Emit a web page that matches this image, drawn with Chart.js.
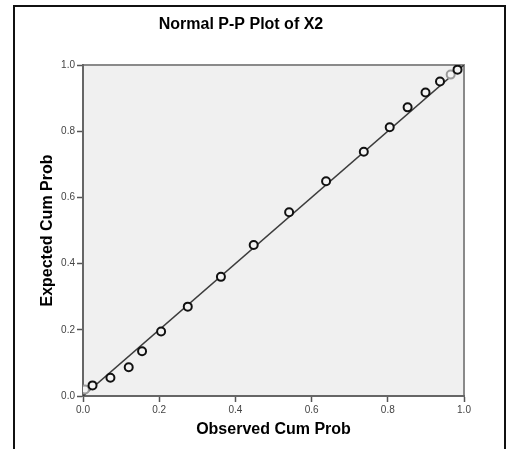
<!DOCTYPE html>
<html>
<head>
<meta charset="utf-8">
<script src="https://cdn.jsdelivr.net/npm/chart.js@4/dist/chart.umd.min.js"></script>
<style>
  html, body { margin: 0; padding: 0; background: #fff; }
  #wrap { position: relative; width: 513px; height: 449px; overflow: hidden; }
  #frame {
    position: absolute; left: 13px; top: 5px; width: 489px; height: 470px;
    border: 2px solid #111; border-bottom: none; pointer-events: none;
  }
</style>
</head>
<body>
<div id="wrap">
  <canvas id="ppChart" width="513" height="449"></canvas>
  <div id="frame"></div>
</div>
<script>
const chartTitle = 'Normal P-P Plot of X2';
const xTitle = 'Observed Cum Prob';
const yTitle = 'Expected Cum Prob';

const observedCum = [0.005, 0.025, 0.072, 0.12, 0.155, 0.205, 0.275, 0.362, 0.448, 0.541, 0.638, 0.737, 0.805, 0.852, 0.899, 0.937, 0.965, 0.983];
const expectedCum = [0.02, 0.032, 0.055, 0.087, 0.135, 0.195, 0.27, 0.36, 0.456, 0.555, 0.649, 0.738, 0.812, 0.872, 0.917, 0.95, 0.971, 0.986];
const faintPoints = [0, 16];
const tickValues = [0, 0.2, 0.4, 0.6, 0.8, 1.0];
const refLine = [0, 1];

const fontFamily = '"Liberation Sans", Arial, sans-serif';

const points = observedCum.map((x, i) => ({ x: x, y: expectedCum[i] }));
const pointColors = observedCum.map((x, i) => faintPoints.includes(i) ? '#9a9a9a' : '#111');

const plotBackground = {
  id: 'plotBackground',
  beforeDraw(chart) {
    const { ctx, chartArea: a } = chart;
    ctx.save();
    ctx.fillStyle = '#f0f0f0';
    ctx.fillRect(a.left, a.top, a.right - a.left, a.bottom - a.top);
    ctx.strokeStyle = '#8a8a8a';
    ctx.lineWidth = 2;
    ctx.beginPath();
    ctx.moveTo(a.left, a.top);
    ctx.lineTo(a.right, a.top);
    ctx.lineTo(a.right, a.bottom);
    ctx.stroke();
    ctx.restore();
  },
  afterDraw(chart) {
    const ctx = chart.ctx;
    ctx.save();
    ctx.fillStyle = '#000';
    ctx.font = 'bold 16px ' + fontFamily;
    ctx.textAlign = 'center';
    ctx.textBaseline = 'middle';
    ctx.fillText(chartTitle, 241, 25);
    ctx.restore();
  }
};

function fixTicks(scale) {
  scale.ticks = tickValues.map(v => ({ value: v }));
}

const tickFont = { family: fontFamily, size: 10 };
const titleFont = { family: fontFamily, size: 16, weight: 'bold' };

new Chart(document.getElementById('ppChart'), {
  data: {
    datasets: [
      {
        type: 'scatter',
        data: points,
        pointRadius: 4,
        pointBorderWidth: 2,
        pointBorderColor: pointColors,
        pointBackgroundColor: '#f4f4f4',
        order: 1
      },
      {
        type: 'line',
        data: refLine.map(v => ({ x: v, y: v })),
        borderColor: '#3c3c3c',
        borderWidth: 1.5,
        pointRadius: 0,
        order: 2
      }
    ]
  },
  options: {
    responsive: false,
    animation: false,
    devicePixelRatio: 1,
    layout: { padding: { top: 65, right: 49, left: 0, bottom: 0 } },
    plugins: {
      legend: { display: false },
      tooltip: { enabled: false }
    },
    scales: {
      x: {
        type: 'linear',
        min: 0,
        max: 1,
        afterBuildTicks: fixTicks,
        afterFit: s => { s.height = 53; },
        ticks: {
          font: tickFont,
          color: '#444',
          padding: 2,
          maxRotation: 0,
          callback: v => v.toFixed(1)
        },
        grid: { drawOnChartArea: false, tickLength: 6, tickColor: '#555', tickWidth: 1.5 },
        border: { color: '#666', width: 2 },
        title: { display: true, text: xTitle, font: titleFont, color: '#000', padding: { top: 0, bottom: 10 } }
      },
      y: {
        type: 'linear',
        min: 0,
        max: 1,
        afterBuildTicks: fixTicks,
        afterFit: s => { s.width = 83; },
        ticks: {
          font: tickFont,
          color: '#444',
          padding: 2,
          callback: v => v.toFixed(1)
        },
        grid: { drawOnChartArea: false, tickLength: 6, tickColor: '#555', tickWidth: 1.5 },
        border: { color: '#666', width: 2 },
        title: { display: true, text: yTitle, font: titleFont, color: '#000', padding: { top: 38, bottom: 0 } }
      }
    }
  },
  plugins: [plotBackground]
});
</script>
</body>
</html>
